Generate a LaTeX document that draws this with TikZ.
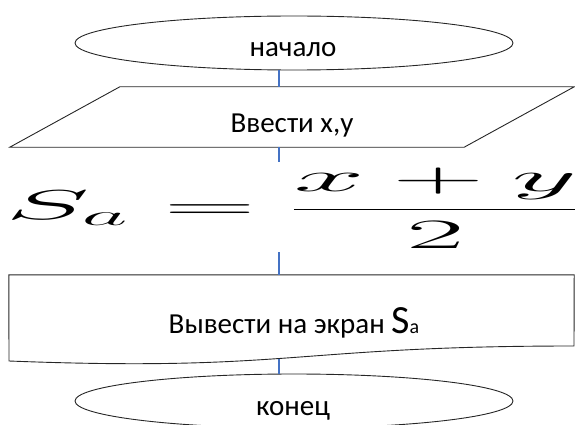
\RequirePackage{fix-cm}
\documentclass[tikz,border=0pt]{standalone}
\usepackage{amsmath}
\usepackage{graphicx}
\usepackage{fontspec}
\setmainfont{Carlito}
\usetikzlibrary{shapes.geometric}
\definecolor{connblue}{RGB}{68,114,196}
\begin{document}
\begin{tikzpicture}[x=1pt,y=-1pt,
  outline/.style={draw=black!85,line width=0.9pt},
  term/.style={outline,ellipse,minimum width=438pt,minimum height=54pt,inner sep=0pt},
  conn/.style={draw=connblue,line width=1.1pt},
  lbl/.style={font=\fontsize{29}{34}\selectfont,anchor=base,inner sep=0pt},
  hidden/.style={inner sep=0pt,draw=none}]
\useasboundingbox (0,0) rectangle (575,425);
\coordinate (xl) at (279,0);
% start
\node[term] (start) at (294,43) {};
\node[lbl] (startlbl) at (293,57) {начало};
% input parallelogram
\node[hidden,minimum width=454pt,minimum height=60pt] (io) at (292,117) {};
\draw[outline] ([xshift=55pt]io.north west) -- ([xshift=55pt]io.north east)
  -- ([xshift=-55pt]io.south east) -- ([xshift=-55pt]io.south west) -- cycle;
\node[lbl] (iolbl) at (292,132) {Ввести x,y};
% formula
\node[hidden] (calcf) at (293,208)
  {\scalebox{2.88}[0.95]{\fontsize{44}{50}\selectfont$\displaystyle S_a=\frac{x+y}{2}$}};
\node[hidden,minimum width=560pt,minimum height=90pt] (calc) at (292,207) {};
% output document shape
\node[hidden,minimum width=565pt,minimum height=84pt] (out) at (291.5,317) {};
\draw[outline] (out.north west) -- (out.north east) -- (574,346)
  .. controls (291.5,346) and (291.5,372) .. (9,361) -- cycle;
\node[lbl] (outlbl) at (294,333) {Вывести на экран {\fontsize{40}{44}\selectfont S}{\fontsize{20}{24}\selectfont a}};
% stop
\node[term] (stop) at (294,401) {};
\node[lbl] (stoplbl) at (293,415) {конец};
% connectors
\draw[conn] (start.south -| xl) -- (io.north -| xl);
\draw[conn] (io.south -| xl) -- (calc.north -| xl);
\draw[conn] (calc.south -| xl) -- (out.north -| xl);
\draw[conn] (out.south -| xl) -- (stop.north -| xl);
\end{tikzpicture}
\end{document}
